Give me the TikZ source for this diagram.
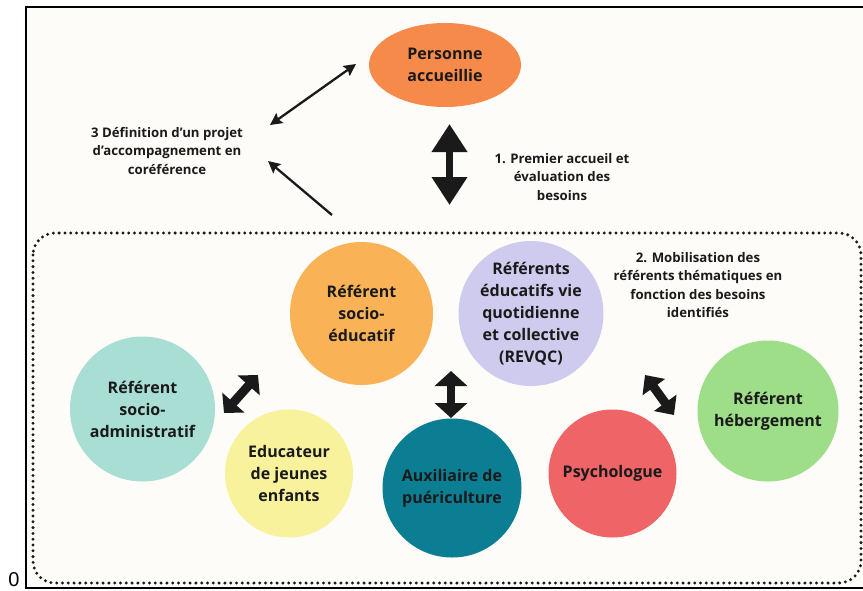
\documentclass[tikz,border=0pt]{standalone}
\usepackage{fontspec}
\setmainfont{Open Sans}
\newfontfamily\zerofont{Liberation Sans}
\usetikzlibrary{arrows.meta,shapes.geometric}
\definecolor{bgc}{HTML}{FDFCF8}
\definecolor{textc}{HTML}{1A1A1A}
\definecolor{cpers}{HTML}{F68A4B}
\definecolor{csocedu}{HTML}{F9B356}
\definecolor{crevqc}{HTML}{CFCBEE}
\definecolor{cadmin}{HTML}{A9DED5}
\definecolor{ceje}{HTML}{F8F29C}
\definecolor{caux}{HTML}{0B7E93}
\definecolor{cpsy}{HTML}{EE6467}
\definecolor{cheb}{HTML}{9EDE88}
\begin{document}
\begin{tikzpicture}[x=1pt,y=-1pt,
  circ/.style={circle, inner sep=0pt, minimum size=#1, text=textc, align=center,
    font=\bfseries\fontsize{16}{22}\selectfont},
  lbl/.style={text=textc, align=center, font=\bfseries\fontsize{13.2}{18.5}\selectfont},
  thinarr/.style={line width=2.3pt, textc},
  bigarr/.style n args={3}{line width=#3, textc,
    arrows={Triangle[width=#1,length=#2]-Triangle[width=#1,length=#2]}},
  dotbox/.style={line width=3.3pt, color=textc, line cap=round,
    dash pattern=on 0pt off 5.8pt, rounded corners=22pt}]
\useasboundingbox (0,0) rectangle (863,590);
\clip (0,0) rectangle (863,590);
\fill[white] (0,0) rectangle (863,590);
\draw[line width=2.5pt, fill=bgc] (26,7) rectangle (875,588);
\node[anchor=base, inner sep=0pt, font=\zerofont\fontsize{20}{20}\selectfont] (zero) at (14,586) {0};
\draw[dotbox] (33,233) rectangle (861,583);

% circles
\node[ellipse, minimum width=152pt, minimum height=84pt, fill=cpers, inner sep=0pt,
  text=textc, align=center, font=\bfseries\fontsize{16}{22}\selectfont]
  (pers) at (445,65) {Personne\\accueillie};
\node[circ=143pt, fill=csocedu] (socedu) at (361.5,313.5) {Référent\\socio-\\éducatif};
\node[circ=145pt, fill=crevqc] (revqc) at (531,313.5) {Référents\\éducatifs vie\\quotidienne\\et collective\\(REVQC)};
\node[circ=145pt, fill=cadmin] (admin) at (142.5,409) {Référent\\socio-\\administratif};
\node[circ=128pt, fill=ceje] (eje) at (289,473.5) {Educateur\\de jeunes\\enfants};
\node[circ=139pt, fill=caux] (aux) at (452,488) {Auxiliaire de\\puériculture};
\node[circ=128pt, fill=cpsy] (psy) at (612.5,473.5) {Psychologue};
\node[circ=141pt, fill=cheb] (heb) at (768,411) {Référent\\hébergement};

% labels
\node[lbl] (l3) at (167,151) {3 Définition d'un projet\\d'accompagnement en\\coréférence};
\node[lbl] (l1) at (562,177) {1. Premier accueil et\\évaluation des\\besoins};
\node[lbl] (l2) at (698,285) {2. Mobilisation des\\référents thématiques en\\fonction des besoins\\identifiés};

% thin arrows
\coordinate (ta1) at (356,64);
\coordinate (ta2) at (270,125);
\coordinate (tb1) at (332,215);
\coordinate (tb2) at (268,161);
\draw[thinarr, {Stealth[length=12pt,width=12pt,inset=2pt]}-{Stealth[length=12pt,width=12pt,inset=2pt]}] (ta1) -- (ta2);
\draw[thinarr, -{Stealth[length=12pt,width=12pt,inset=2pt]}] (tb1) -- (tb2);

% thick arrows
\coordinate (ba1) at (449.5,124);
\coordinate (ba2) at (449.5,205);
\draw[bigarr={34pt}{28pt}{7pt}] (ba1) -- (ba2);
\coordinate (bb1) at (451,371);
\coordinate (bb2) at (451,418);
\draw[bigarr={32pt}{15pt}{8pt}] (bb1) -- (bb2);
\coordinate (bc1) at (224,413);
\coordinate (bc2) at (258,375);
\draw[bigarr={29pt}{14pt}{9pt}] (bc1) -- (bc2);
\coordinate (bd1) at (645,375);
\coordinate (bd2) at (674,415);
\draw[bigarr={27pt}{15pt}{9pt}] (bd1) -- (bd2);
\end{tikzpicture}
\end{document}
